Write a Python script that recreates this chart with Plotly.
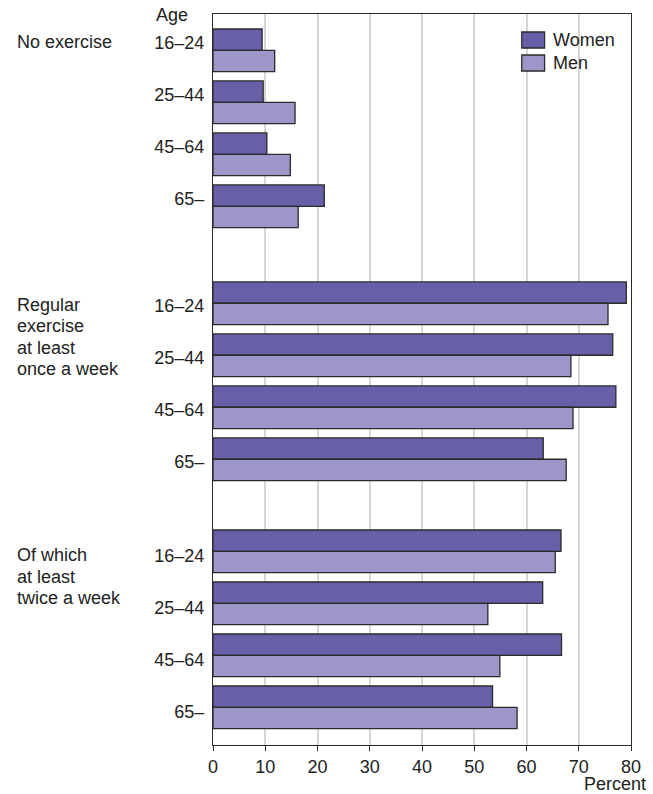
import plotly.graph_objects as go

# ---- data ----
group_lines = [
    ["No exercise"],
    ["Regular", "exercise", "at least", "once a week"],
    ["Of which", "at least", "twice a week"],
]
ages = ["16–24", "25–44", "45–64", "65–"]
women = [
    [9.4, 9.6, 10.3, 21.3],
    [79.1, 76.5, 77.1, 63.2],
    [66.6, 63.1, 66.7, 53.5],
]
men = [
    [11.8, 15.7, 14.8, 16.3],
    [75.6, 68.5, 68.9, 67.6],
    [65.5, 52.6, 54.9, 58.2],
]
x_ticks = [0, 10, 20, 30, 40, 50, 60, 70, 80]

# ---- layout helpers ----
group_offsets = [0, 4.865, 9.635]
label_shift_px = [-8, 2, 4]      # vertical offset of labels relative to bar pair centre
UNIT_PX = 52.0
LINE_PX = 21.2
WOMEN_COL = "#6560a8"
MEN_COL = "#9d97c9"
EDGE = "#2b2b2b"
TXT = "#222222"
FONT = "Arial, Liberation Sans, sans-serif"
FS = 18

ypos, wv, mv, tickvals, ticktext = [], [], [], [], []
for g, off in enumerate(group_offsets):
    for i, a in enumerate(ages):
        ypos.append(off + i)
        wv.append(women[g][i])
        mv.append(men[g][i])
        tickvals.append(off + i + label_shift_px[g] / UNIT_PX)
        ticktext.append(a)

fig = go.Figure()
fig.add_trace(go.Bar(
    y=ypos, x=wv, orientation="h", name="Women",
    width=0.41, offset=-0.41,
    marker=dict(color=WOMEN_COL, line=dict(color=EDGE, width=1.3)),
    showlegend=False,
))
fig.add_trace(go.Bar(
    y=ypos, x=mv, orientation="h", name="Men",
    width=0.41, offset=0,
    marker=dict(color=MEN_COL, line=dict(color=EDGE, width=1.3)),
    showlegend=False,
))

fig.update_layout(
    width=653, height=794,
    margin=dict(l=213, r=19, t=14, b=49),
    plot_bgcolor="white", paper_bgcolor="white",
    font=dict(family=FONT, size=FS, color=TXT),
    barmode="overlay",
    xaxis=dict(
        range=[0, 80], tickvals=x_ticks,
        showgrid=True, gridcolor="#d6d6d6", gridwidth=1.5,
        showline=True, linecolor=EDGE, linewidth=1.3, mirror=True,
        ticks="outside", ticklen=5, tickcolor=EDGE, tickwidth=1.3,
        zeroline=False, fixedrange=True,
    ),
    yaxis=dict(
        range=[13.36, -0.698],
        tickvals=tickvals, ticktext=ticktext,
        showgrid=False, zeroline=False,
        showline=True, linecolor=EDGE, linewidth=1.3, mirror=True,
        ticks="", ticklabelstandoff=4, fixedrange=True,
    ),
)

annotations = []
for g, off in enumerate(group_offsets):
    for k, line in enumerate(group_lines[g]):
        annotations.append(dict(
            text=line, xref="paper", yref="y", x=-0.4727, y=off,
            xanchor="left", yanchor="middle",
            yshift=-(label_shift_px[g] + k * LINE_PX), align="left",
            showarrow=False, font=dict(size=FS, family=FONT, color=TXT),
        ))
annotations.append(dict(text="Age", xref="paper", yref="paper", x=-0.14, y=0.998,
                        xanchor="left", yanchor="middle", showarrow=False))
annotations.append(dict(text="Percent", xref="paper", yref="paper", x=1.038, y=-0.0534,
                        xanchor="right", yanchor="middle", showarrow=False, borderpad=0))
# legend
leg = [("Women", WOMEN_COL, 0.9754, 0.9535), ("Men", MEN_COL, 0.9439, 0.922)]
shapes = []
for name, col, y1, y0 in leg:
    shapes.append(dict(type="rect", xref="paper", yref="paper", x0=0.7387, x1=0.7933,
                       y0=y0, y1=y1, fillcolor=col, line=dict(color=EDGE, width=1.3)))
    annotations.append(dict(text=name, xref="paper", yref="paper", x=0.808, y=(y0 + y1) / 2,
                            xanchor="left", yanchor="middle", showarrow=False))
fig.update_layout(annotations=annotations, shapes=shapes)

fig.write_html(
    "out.html",
    config={"displayModeBar": False},
    post_script="document.body.style.margin='0';document.body.style.overflow='hidden';",
)
